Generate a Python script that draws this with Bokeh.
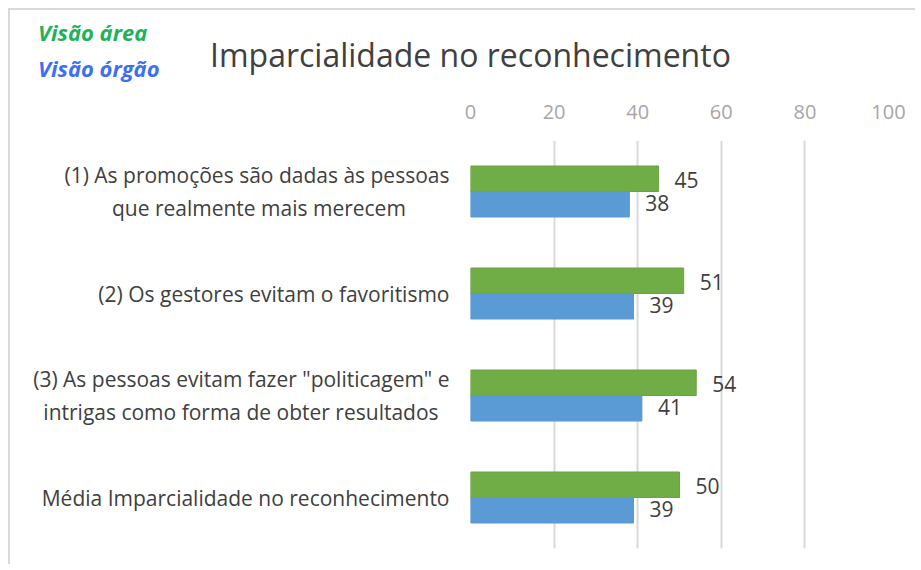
from bokeh.plotting import figure
from bokeh.models import FactorRange, Div
from bokeh.layouts import column
from bokeh.transform import dodge
from bokeh.core.properties import value
from bokeh.embed import file_html
from bokeh.resources import INLINE

categories = [
    "(1) As promoções são dadas às pessoas\nque realmente mais merecem",
    "(2) Os gestores evitam o favoritismo",
    "(3) As pessoas evitam fazer \"politicagem\" e\nintrigas como forma de obter resultados",
    "Média Imparcialidade no reconhecimento",
]
visao_area = [45, 51, 54, 50]
visao_orgao = [38, 39, 41, 39]
x_ticks = [0, 20, 40, 60, 80, 100]
title_text = "Imparcialidade no reconhecimento"
legend_area = "Visão área"
legend_orgao = "Visão órgão"

FONT = "Open Sans"
GREEN = "#70ad47"
BLUE = "#5b9bd5"
NB = "\u00a0"

# pad the second line of two-line labels so it sits centred under the first
line_pad = [8, 0, 2, 0]
factors = [c + NB * n for c, n in zip(categories, line_pad)]

p = figure(
    width=905, height=474,
    y_range=FactorRange(factors=list(reversed(factors))),
    x_range=(0, 100),
    x_axis_location="above",
    output_backend="svg", toolbar_location=None,
    min_border_left=460, min_border_right=25,
    min_border_top=50, min_border_bottom=16,
)
p.frame_width = 418
p.frame_height = 408
p.outline_line_color = None

src = dict(cat=factors, area=visao_area, orgao=visao_orgao,
           area_lbl=[str(v) for v in visao_area], orgao_lbl=[str(v) for v in visao_orgao])

p.hbar(y=dodge("cat", 0.125, range=p.y_range), right="area", left=0, height=0.25,
       fill_color=GREEN, line_color="#6aa343", source=src)
p.hbar(y=dodge("cat", -0.125, range=p.y_range), right="orgao", left=0, height=0.25,
       fill_color=BLUE, line_color="#5a98d0", source=src)

p.text(x="area", y=dodge("cat", 0.115, range=p.y_range), text="area_lbl", source=src,
       x_offset=16, text_baseline="middle", text_font=value(FONT),
       text_font_size="21px", text_color="#404040")
p.text(x="orgao", y=dodge("cat", -0.115, range=p.y_range), text="orgao_lbl", source=src,
       x_offset=16, text_baseline="middle", text_font=value(FONT),
       text_font_size="21px", text_color="#404040")

xa = p.xaxis[0]
xa.ticker = x_ticks
xa.axis_line_color = None
xa.major_tick_line_color = None
xa.minor_tick_line_color = None
xa.major_label_text_font = FONT
xa.major_label_text_font_size = "20px"
xa.major_label_text_color = "#a6a6a6"
xa.major_label_standoff = 16

ya = p.yaxis[0]
ya.axis_line_color = None
ya.major_tick_line_color = None
ya.minor_tick_line_color = None
ya.major_label_text_font = FONT
ya.major_label_text_font_size = "21px"
ya.major_label_text_color = "#404040"
ya.major_label_standoff = 15

p.xgrid.grid_line_color = "#d9d9d9"
p.xgrid.grid_line_width = 2
p.ygrid.grid_line_color = None

header_html = f"""
<div style="position:relative;width:905px;height:80px;margin:0;padding:0;font-family:'{FONT}';">
  <span style="position:absolute;left:28px;top:10px;font-size:22px;line-height:24px;font-weight:bold;font-style:italic;color:#1fb25a;white-space:nowrap;">{legend_area}</span>
  <span style="position:absolute;left:28px;top:46px;font-size:22px;line-height:24px;font-weight:bold;font-style:italic;color:#3d6ff0;white-space:nowrap;">{legend_orgao}</span>
  <span style="position:absolute;left:200px;top:26px;font-size:32px;line-height:38px;color:#404040;white-space:nowrap;">{title_text}</span>
</div>
"""
header = Div(text=header_html, width=905, height=80, margin=0)

layout = column(header, p, spacing=0,
                styles={"margin-left": "8px", "margin-top": "8px",
                        "border-left": "2px solid #d9d9d9", "border-top": "2px solid #d9d9d9"})

open("out.html", "w").write(file_html(layout, INLINE))
